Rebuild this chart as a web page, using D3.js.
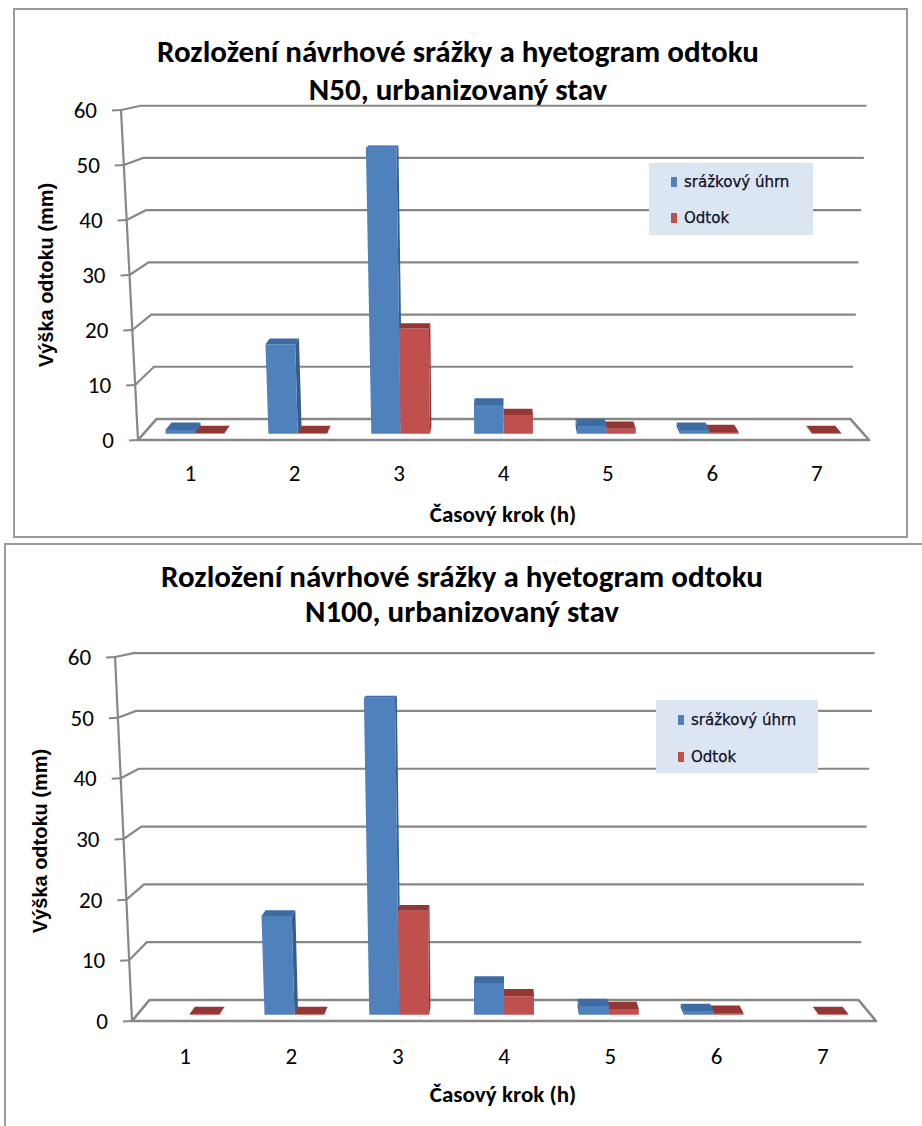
<!DOCTYPE html>
<html>
<head>
<meta charset="utf-8">
<script src="https://cdn.jsdelivr.net/npm/d3@7"></script>
<style>
  html, body { margin: 0; padding: 0; background: #fff; }
  svg { display: block; }
</style>
</head>
<body>
<svg id="page" width="922" height="1126"></svg>
<script>
// Data: design storm distribution and runoff hyetograph (mm per hour)
const categories = ["1", "2", "3", "4", "5", "6", "7"];
const yTicks = [0, 10, 20, 30, 40, 50, 60];
const seriesNames = ["srážkový úhrn", "Odtok"];

const rainN50   = [0.7, 16.5, 52.8, 5.3, 1.4, 0.7, 0];
const runoffN50 = [0.1, 0.1, 19.4, 3.3, 0.9, 0.3, 0.1];

const rainN100   = [0, 16.5, 53.0, 5.3, 1.45, 0.6, 0];
const runoffN100 = [0.1, 0.1, 17.4, 3.1, 0.95, 0.3, 0.1];

const titleN50  = ["Rozložení návrhové srážky a hyetogram odtoku", "N50, urbanizovaný stav"];
const titleN100 = ["Rozložení návrhové srážky a hyetogram odtoku", "N100, urbanizovaný stav"];
const yAxisTitle = "Výška odtoku (mm)";
const xAxisTitle = "Časový krok (h)";

// Face colours: [front, top, side]
const palette = [
  ["#4f81bd", "#3e6ba3", "#385d8a"],
  ["#c0504d", "#943634", "#8c3431"]
];

const svg = d3.select("#page");

function drawChart(cfg, seriesValues, titleLines) {
  const g = svg.append("g");

  const x = d3.scaleBand().domain(categories).range([cfg.xL, cfg.xR]).padding(0);
  const y = d3.scaleLinear().domain([0, 60]).range([cfg.floorY, cfg.topY]);

  // Perspective projection: x along the category axis, v value, w depth (0 front, 1 back)
  const P = (px, v, w) => {
    const yf = y(v);
    const k = 1 + cfg.skew * (cfg.floorY - yf);
    const xf = cfg.cx + (px - cfg.cx) * k;
    const s = 1 - w * cfg.depth;
    return [cfg.cx + (xf - cfg.cx) * s, cfg.vy + (yf - cfg.vy) * s];
  };
  const poly = pts => "M" + pts.map(p => p[0].toFixed(2) + "," + p[1].toFixed(2)).join("L") + "Z";
  const line = pts => "M" + pts.map(p => p[0].toFixed(2) + "," + p[1].toFixed(2)).join("L");

  // Frame
  if (cfg.frame === "rect") {
    g.append("rect").attr("x", cfg.frameBox[0]).attr("y", cfg.frameBox[1])
      .attr("width", cfg.frameBox[2]).attr("height", cfg.frameBox[3])
      .attr("fill", "none").attr("stroke", "#9a9a9a").attr("stroke-width", 2);
  } else {
    g.append("path").attr("d", `M${cfg.frameBox[0]},1126V${cfg.frameBox[1]}H922`)
      .attr("fill", "none").attr("stroke", "#9a9a9a").attr("stroke-width", 2);
  }

  // Gridlines on side wall and back wall
  const gridColor = "#878787";
  yTicks.filter(t => t > 0).forEach(t => {
    g.append("path")
      .attr("d", line([P(cfg.xL, t, 0), P(cfg.xL, t, 1), P(cfg.xR, t, 1)]))
      .attr("fill", "none").attr("stroke", gridColor).attr("stroke-width", 2.2);
  });

  // Floor
  g.append("path")
    .attr("d", poly([P(cfg.xL, 0, 0), P(cfg.xR, 0, 0), P(cfg.xR, 0, 1), P(cfg.xL, 0, 1)]))
    .attr("fill", "#fff").attr("stroke", gridColor).attr("stroke-width", 2.6)
    .attr("stroke-linejoin", "round");

  // Value axis with ticks
  g.append("path").attr("d", line([P(cfg.xL, 0, 0), P(cfg.xL, 60, 0)]))
    .attr("stroke", gridColor).attr("stroke-width", 2.2).attr("fill", "none");
  yTicks.forEach(t => {
    const p = P(cfg.xL, t, 0);
    g.append("path").attr("d", line([[p[0] - 9, p[1] + 0.5], p]))
      .attr("stroke", gridColor).attr("stroke-width", 2).attr("fill", "none");
    g.append("text")
      .attr("x", p[0] - 24).attr("y", p[1])
      .attr("dy", "0.35em")
      .attr("text-anchor", "end")
      .attr("font-family", "Carlito, Lato, sans-serif")
      .attr("font-size", 23)
      .attr("fill", "#000")
      .text(t);
  });

  // 3D columns
  const bw = x.bandwidth() / 3.5;
  const bars = [];
  categories.forEach((c, i) => {
    seriesValues.forEach((vals, s) => {
      const v = vals[i];
      if (!(v > 0)) return;
      const x0 = x(c) + x.bandwidth() / 2 - bw + s * bw;
      bars.push({ x0, x1: x0 + bw, v, s });
    });
  });
  bars.sort((a, b) => Math.abs((b.x0 + b.x1) / 2 - cfg.cx) - Math.abs((a.x0 + a.x1) / 2 - cfg.cx));
  const w0 = cfg.w0, w1 = cfg.w1;
  bars.forEach(b => {
    const col = palette[b.s];
    const bg = g.append("g");
    if (b.x1 < cfg.cx) {
      bg.append("path").attr("d", poly([P(b.x1, 0, w0), P(b.x1, 0, w1), P(b.x1, b.v, w1), P(b.x1, b.v, w0)]))
        .attr("fill", col[2]);
    } else if (b.x0 > cfg.cx) {
      bg.append("path").attr("d", poly([P(b.x0, 0, w0), P(b.x0, 0, w1), P(b.x0, b.v, w1), P(b.x0, b.v, w0)]))
        .attr("fill", col[2]);
    }
    bg.append("path").attr("d", poly([P(b.x0, 0, w0), P(b.x1, 0, w0), P(b.x1, b.v, w0), P(b.x0, b.v, w0)]))
      .attr("fill", col[0]);
    bg.append("path").attr("d", poly([P(b.x0, b.v, w0), P(b.x1, b.v, w0), P(b.x1, b.v, w1), P(b.x0, b.v, w1)]))
      .attr("fill", col[1]);
  });

  // Category labels
  categories.forEach(c => {
    g.append("text")
      .attr("x", x(c) + x.bandwidth() / 2).attr("y", cfg.catLabelY)
      .attr("dy", "0.35em")
      .attr("text-anchor", "middle")
      .attr("font-family", "Carlito, Lato, sans-serif")
      .attr("font-size", 23)
      .attr("fill", "#000")
      .text(c);
  });

  // Axis titles
  g.append("text")
    .attr("x", cfg.xTitle[0]).attr("y", cfg.xTitle[1])
    .attr("dy", "0.35em")
    .attr("text-anchor", "middle")
    .attr("font-family", "Carlito, Lato, sans-serif")
    .attr("font-weight", "bold")
    .attr("font-size", 23)
    .text(xAxisTitle);
  g.append("text")
    .attr("transform", `translate(${cfg.yTitle[0]},${cfg.yTitle[1]}) rotate(-90)`)
    .attr("dy", "0.35em")
    .attr("text-anchor", "middle")
    .attr("font-family", "'Liberation Sans', Arial, sans-serif")
    .attr("font-weight", "bold")
    .attr("font-size", 20)
    .text(yAxisTitle);

  // Chart title
  titleLines.forEach((t, i) => {
    g.append("text")
      .attr("x", cfg.titleX).attr("y", cfg.titleY[i])
      .attr("text-anchor", "middle")
      .attr("font-family", "Carlito, Lato, sans-serif")
      .attr("font-weight", "bold")
      .attr("font-size", 31)
      .text(t);
  });

  // Legend
  const L = cfg.legend;
  const lg = g.append("g");
  lg.append("rect").attr("x", L.x).attr("y", L.y).attr("width", L.w).attr("height", L.h)
    .attr("fill", "#dce6f2");
  seriesNames.forEach((n, i) => {
    const cy = L.y + L.rows[i];
    lg.append("rect").attr("x", L.x + 22).attr("y", cy - 5).attr("width", 6).attr("height", 10)
      .attr("fill", palette[i][0]);
    lg.append("text").attr("x", L.x + 35).attr("y", cy).attr("dy", "0.35em")
      .attr("font-family", "'DejaVu Sans', Verdana, sans-serif")
      .attr("font-size", 15)
      .attr("fill", "#0e0e26")
      .attr("stroke", "#0e0e26").attr("stroke-width", 0.25)
      .text(n);
  });
}

drawChart({
  frame: "rect", frameBox: [14, 9, 893, 528],
  xL: 138, xR: 869, floorY: 440, topY: 110,
  cx: 503.5, skew: 0.000141, depth: 0.051, vy: 27, w0: 0.3, w1: 0.65,
  catLabelY: 473, xTitle: [503, 514], yTitle: [46, 275],
  titleX: 458, titleY: [62, 100],
  legend: { x: 649, y: 163, w: 164, h: 72, rows: [19, 55] }
}, [rainN50, runoffN50], titleN50);

drawChart({
  frame: "open", frameBox: [5, 544],
  xL: 132, xR: 876, floorY: 1021, topY: 657,
  cx: 504, skew: 0.000125, depth: 0.047, vy: 574, w0: 0.3, w1: 0.65,
  catLabelY: 1056, xTitle: [503, 1094], yTitle: [40, 841],
  titleX: 462, titleY: [587, 622],
  legend: { x: 656, y: 700, w: 162, h: 73, rows: [20, 57] }
}, [rainN100, runoffN100], titleN100);
</script>
</body>
</html>
